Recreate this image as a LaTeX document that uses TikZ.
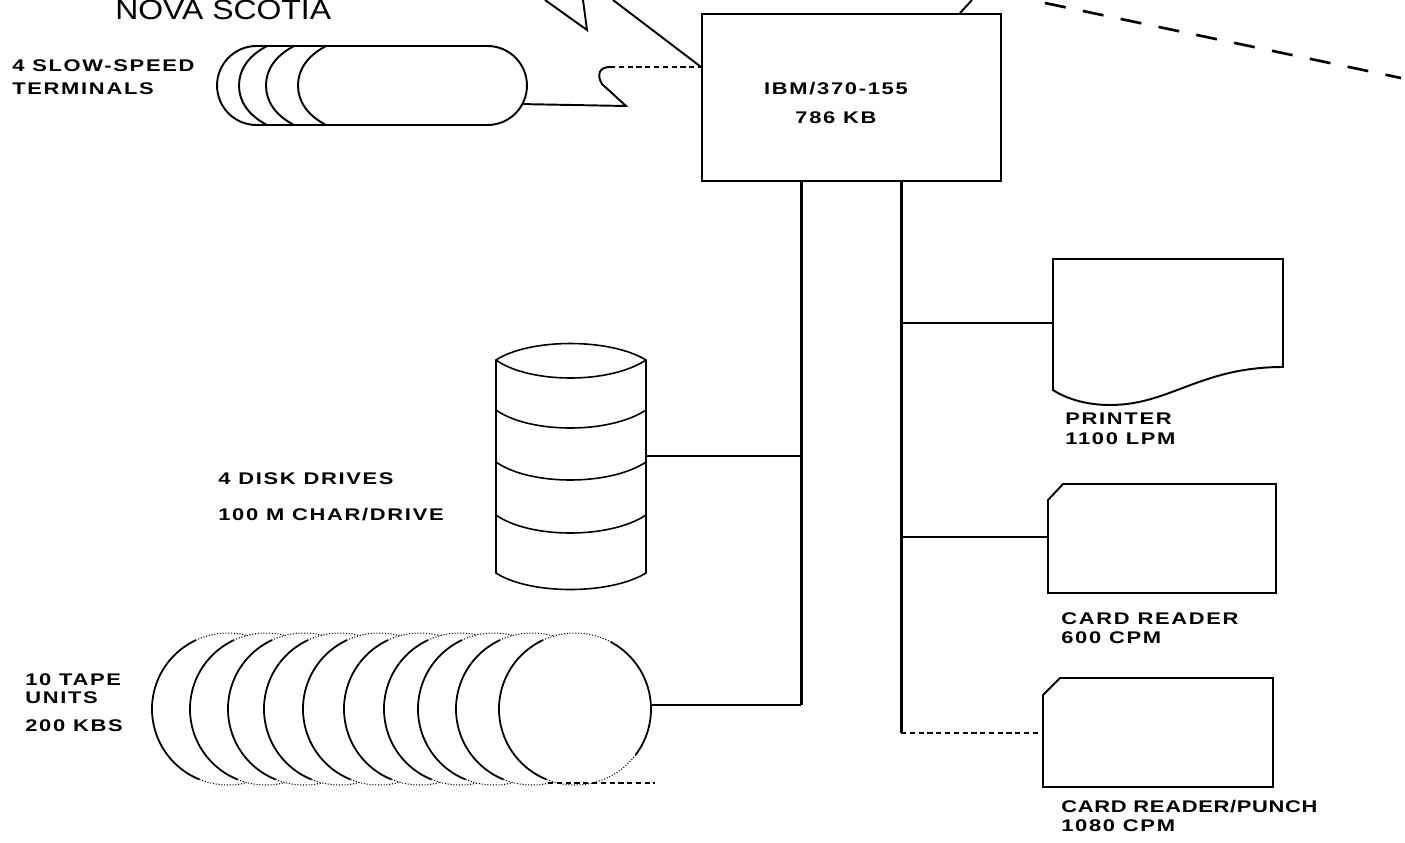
\documentclass[tikz,border=0pt]{standalone}
\usepackage{fontspec}
\usetikzlibrary{arrows.meta,positioning,shapes.misc}
\newfontfamily\stencilfont[FakeStretch=1.3,LetterSpace=10]{Liberation Sans Bold}
\newfontfamily\tightfont[FakeStretch=1.3,LetterSpace=4]{Liberation Sans Bold}
\newfontfamily\regionfont[FakeStretch=1.15]{Liberation Sans}
\tikzset{
  lbl/.style={inner sep=0pt,anchor=north west,align=left,
    font=\stencilfont\fontsize{9.6}{11}\selectfont},
  unit/.style={draw=black,line width=1.1pt,fill=white},
  wire/.style={line width=1.1pt,black},
  trunk/.style={line width=1.7pt,black},
  tapeunit/.style={circle,draw=black,line width=0.6pt,densely dotted,fill=white,
    minimum size=3.04cm,inner sep=0pt},
  tapearc/.style={line width=1pt,black}
}

\begin{document}
\begin{tikzpicture}[x=0.02cm,y=-0.02cm]
  \useasboundingbox (0,0) rectangle (1405,842);

  \node[inner sep=0pt,anchor=west,font=\regionfont\fontsize{15.8}{18}\selectfont] (nova) at (115,10) {NOVA SCOTIA};

  % processor
  \node[unit,minimum width=5.98cm,minimum height=3.34cm,inner sep=0pt] (cpu) at (851.5,97.5) {};
  \node[lbl,anchor=center,align=center,font=\stencilfont\fontsize{9.6}{16.5}\selectfont] (cpulabel) at (836,103)
    {IBM/370-155\\786 KB};

  % terminals
  \node[unit,rounded rectangle,minimum width=6.2cm,minimum height=1.58cm,inner sep=0pt] (term) at (372,85.5) {};
  \foreach \x in {239,266,298}
    \draw[unit,fill=none] ({\x+28},46) .. controls ({\x+9},56) and (\x,70) .. (\x,85.5)
      .. controls (\x,101) and ({\x+9},115) .. ({\x+28},125);
  \node[lbl,anchor=west] (termlabel) at (12,77) {4 SLOW-SPEED\\[2pt]TERMINALS};

  \coordinate (termbend) at (626,106);
  \coordinate (termturn) at (610,67);
  \draw[wire] (term.-7) -- (termbend) -- (602,84) .. controls (596,74) and (600,67) .. (termturn);
  \draw[wire,densely dashed] (termturn) -- (cpu.west |- termturn);

  % line links across the top
  \coordinate (linkA) at (545,0);
  \coordinate (linkB) at (587,30);
  \coordinate (linkC) at (583,0);
  \coordinate (linkD) at (613,0);
  \coordinate (linkE) at (972,0);
  \coordinate (linkF) at (1045,3);
  \coordinate (linkG) at (1401,78);
  \draw[wire] (linkA) -- (linkB) -- (linkC);
  \draw[wire] (linkD) -- (cpu.west |- termturn);
  \draw[wire] (linkE) -- (cpu.north -| 960,0);
  \draw[line width=1.5pt,dash pattern=on 12pt off 10pt] (linkF) -- (linkG);

  % disk stack
  \draw[unit,line width=0.9pt] (496,360) .. controls (530,338) and (610,338) .. (646,360)
    -- (646,573) .. controls (610,595) and (530,595) .. (496,573) -- cycle;
  \foreach \y in {360,410,462,515}
    \draw[unit,line width=0.9pt,fill=none] (496,\y) .. controls (530,{\y+24}) and (610,{\y+24}) .. (646,\y);
  \coordinate (diskout) at (646,456);
  \node[lbl,anchor=west] (disklabel) at (218,497) {4 DISK DRIVES\\[1em]100 M CHAR/DRIVE};

  % tape units
  \foreach \x in {228,266,304,340,379,420,460,494,532}
    \node[tapeunit] at (\x,709) {};
  \node[tapeunit] (tape) at (575,709) {};
  \foreach \x in {228,266,304,340,379,420,460,494,532,575}
    \draw[tapearc] (\x,709) ++(112:76) arc (112:245:76);
  \draw[tapearc] (575,709) ++(-62:76) arc (-62:37:76);
  \coordinate (tapebaseA) at (548,783);
  \coordinate (tapebaseB) at (655,783);
  \draw[tapearc,densely dashed] (tapebaseA) -- (tapebaseB);
  \node[lbl,anchor=west] (tapelabel) at (25,703) {10 TAPE\\[-1pt]UNITS\\[0.55em]200 KBS};

  % printer and card units
  \coordinate (printerin) at (1053,323);
  \draw[unit] (1053,259) -- (1283,259) -- (1283,367)
    .. controls (1200,367) and (1170,405) .. (1110,405)
    .. controls (1085,405) and (1065,398) .. (1053,390) -- cycle;
  \node[lbl] (printerlabel) at (1065,413) {PRINTER\\1100 LPM};

  \coordinate (readerin) at (1048,537);
  \draw[unit] (1063,484) -- (1276,484) -- (1276,593) -- (1048,593) -- (1048,500) -- cycle;
  \node[lbl] (readerlabel) at (1061,612) {CARD READER\\600 CPM};

  \coordinate (punchin) at (1043,733);
  \draw[unit] (1060,678) -- (1273,678) -- (1273,787) -- (1043,787) -- (1043,695) -- cycle;
  \node[lbl] (punchlabel) at (1061,800) {{\tightfont CARD READER/PUNCH}\\1080 CPM};

  % channels
  \coordinate (chanA) at (801,705);
  \coordinate (chanB) at (901,733);
  \draw[trunk] (cpu.south -| chanA) -- (chanA);
  \draw[wire] (chanA) -- (tape.east |- chanA);
  \draw[trunk] (cpu.south -| chanB) -- (chanB);
  \draw[wire] (diskout) -- (diskout -| chanA);
  \draw[wire] (chanB |- printerin) -- (printerin);
  \draw[wire] (chanB |- readerin) -- (readerin);
  \draw[wire,densely dashed] (chanB) -- (punchin);
\end{tikzpicture}
\end{document}
